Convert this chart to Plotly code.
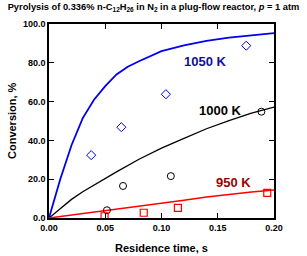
import plotly.graph_objects as go

# Experimental data (residence time s, conversion %)
t_1050 = [0.0375, 0.0643, 0.1039, 0.1753]
c_1050 = [32.4, 46.8, 63.8, 88.8]
t_1000 = [0.0515, 0.0658, 0.1083, 0.1888]
c_1000 = [4.0, 16.5, 21.6, 54.8]
t_950 = [0.0494, 0.0842, 0.1146, 0.1940]
c_950 = [0.9, 2.7, 5.2, 12.9]

# Model curves
tm_1050 = [0, 0.005, 0.01, 0.02, 0.03, 0.04, 0.05, 0.06, 0.07, 0.08, 0.10, 0.12, 0.14, 0.16, 0.18, 0.20]
cm_1050 = [0, 10.5, 20, 37.5, 51.5, 61, 68, 74, 78, 80.8, 86, 89, 91.3, 93, 94.3, 95.3]
tm_1000 = [0, 0.01, 0.02, 0.03, 0.04, 0.05, 0.06, 0.08, 0.10, 0.12, 0.14, 0.16, 0.18, 0.20]
cm_1000 = [0, 5, 9.6, 13.5, 17, 20.5, 23.8, 30.3, 36, 41, 46, 50.2, 54, 57.2]
tm_950 = [0, 0.02, 0.04, 0.06, 0.08, 0.10, 0.12, 0.14, 0.16, 0.18, 0.20]
cm_950 = [0, 1.5, 2.9, 4.4, 5.9, 7.6, 9.2, 10.8, 12.2, 13.4, 14.4]

labels = ["1050 K", "1000 K", "950 K"]
label_t = [0.139, 0.152, 0.164]
label_c = [80.8, 55.6, 18.5]
label_colors = ["#10109a", "#000000", "#a00000"]

x_ticks = [0, 0.05, 0.10, 0.15, 0.20]
y_ticks = [0, 20, 40, 60, 80, 100]

FONT = "Arial, Liberation Sans, sans-serif"

fig = go.Figure()
fig.add_trace(go.Scatter(x=tm_1050, y=cm_1050, mode="lines", line=dict(color="#0000ee", width=1.8)))
fig.add_trace(go.Scatter(x=tm_1000, y=cm_1000, mode="lines", line=dict(color="#000000", width=1.3)))
fig.add_trace(go.Scatter(x=tm_950, y=cm_950, mode="lines", line=dict(color="#ff0000", width=1.5)))
fig.add_trace(go.Scatter(x=t_1050, y=c_1050, mode="markers",
                         marker=dict(symbol="diamond-open", size=7, color="#0000ee", line=dict(width=1))))
fig.add_trace(go.Scatter(x=t_1000, y=c_1000, mode="markers",
                         marker=dict(symbol="circle-open", size=7, color="#000000", line=dict(width=1))))
fig.add_trace(go.Scatter(x=t_950, y=c_950, mode="markers",
                         marker=dict(symbol="square-open", size=7, color="#ff0000", line=dict(width=1.2))))

for lab, tx, cy, col in zip(labels, label_t, label_c, label_colors):
    fig.add_annotation(x=tx, y=cy, xref="x", yref="y", text="<b>" + lab + "</b>",
                       showarrow=False, font=dict(family=FONT, size=13, color=col))

# axis titles placed as annotations for exact position
fig.add_annotation(x=0.5, y=0, xref="paper", yref="paper", xanchor="center", yanchor="top",
                   yshift=-22, text="<b>Residence time, s</b>", showarrow=False,
                   font=dict(family=FONT, size=11, color="black"))
fig.add_annotation(x=0, y=0.5, xref="paper", yref="paper", xanchor="right", yanchor="middle",
                   xshift=-29, textangle=-90, text="<b>Conversion, %</b>", showarrow=False,
                   font=dict(family=FONT, size=11, color="black"))

fig.update_layout(
    width=307, height=256,
    margin=dict(l=49, r=33, t=23.5, b=37.5, autoexpand=False),
    paper_bgcolor="white", plot_bgcolor="white",
    showlegend=False,
    title=dict(text="<b>Pyrolysis of 0.336% n-C<sub>12</sub>H<sub>26</sub> in N<sub>2</sub> in a plug-flow reactor, <i>p</i> = 1 atm</b>",
               x=0.5, xref="container", xanchor="center", y=1 - 7 / 256, yref="container", yanchor="middle",
               font=dict(family=FONT, size=9.3, color="black")),
    font=dict(family=FONT, color="black"),
)
fig.update_xaxes(range=[0, 0.2], tickvals=x_ticks, ticktext=["<b>%.2f</b>" % v for v in x_ticks],
                 ticks="inside", ticklen=5, tickwidth=1, tickcolor="black", automargin=False,
                 showline=True, linecolor="black", linewidth=1.5, mirror="ticks", showgrid=False, zeroline=False,
                 tickfont=dict(family=FONT, size=9))
fig.update_yaxes(range=[0, 100], tickvals=y_ticks, ticktext=["<b>%.1f</b>" % v for v in y_ticks],
                 ticks="inside", ticklen=5, tickwidth=1, tickcolor="black", automargin=False,
                 showline=True, linecolor="black", linewidth=1.5, mirror="ticks", showgrid=False, zeroline=False,
                 tickfont=dict(family=FONT, size=9))

fig.write_html("out.html")
